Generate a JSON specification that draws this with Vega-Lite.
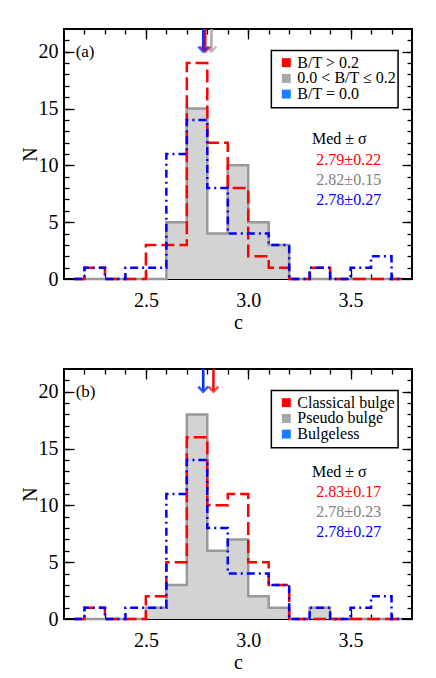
{
 "$schema": "https://vega.github.io/schema/vega-lite/v6.json",
 "background": "white",
 "padding": {"left": 19, "top": 26, "right": 5, "bottom": 5},
 "spacing": 90,
 "bounds": "flush",
 "config": {
  "view": {"stroke": "black", "strokeWidth": 2},
  "font": "Liberation Serif",
  "text": {"font": "Liberation Serif"},
  "axis": {"labelFont": "Liberation Serif", "titleFont": "Liberation Serif", "labelColor": "black", "titleColor": "black", "domain": false, "grid": false, "tickColor": "black", "tickWidth": 1.3, "zindex": 1, "titleFontWeight": "normal"}
 },
 "datasets": {
  "ga": [{"c":2.15,"n":0},{"c":2.25,"n":0},{"c":2.35,"n":0},{"c":2.45,"n":0},{"c":2.55,"n":0},{"c":2.65,"n":5},{"c":2.75,"n":15},{"c":2.85,"n":4},{"c":2.95,"n":10},{"c":3.05,"n":5},{"c":3.15,"n":3},{"c":3.25,"n":0},{"c":3.35,"n":0},{"c":3.45,"n":0},{"c":3.55,"n":0},{"c":3.65,"n":0},{"c":3.75,"n":0}],
  "ra": [{"c":2.15,"n":0},{"c":2.25,"n":1},{"c":2.35,"n":0},{"c":2.45,"n":0},{"c":2.55,"n":3},{"c":2.65,"n":3},{"c":2.75,"n":19},{"c":2.85,"n":12},{"c":2.95,"n":8},{"c":3.05,"n":2},{"c":3.15,"n":1},{"c":3.25,"n":0},{"c":3.35,"n":1},{"c":3.45,"n":0},{"c":3.55,"n":0},{"c":3.65,"n":0},{"c":3.75,"n":0}],
  "bl": [{"c":2.15,"n":0},{"c":2.25,"n":1},{"c":2.35,"n":0},{"c":2.45,"n":1},{"c":2.55,"n":1},{"c":2.65,"n":11},{"c":2.75,"n":14},{"c":2.85,"n":8},{"c":2.95,"n":4},{"c":3.05,"n":4},{"c":3.15,"n":3},{"c":3.25,"n":0},{"c":3.35,"n":1},{"c":3.45,"n":0},{"c":3.55,"n":1},{"c":3.65,"n":2},{"c":3.75,"n":0}],
  "gb": [{"c":2.15,"n":0},{"c":2.25,"n":0},{"c":2.35,"n":0},{"c":2.45,"n":0},{"c":2.55,"n":1},{"c":2.65,"n":3},{"c":2.75,"n":18},{"c":2.85,"n":6},{"c":2.95,"n":7},{"c":3.05,"n":2},{"c":3.15,"n":1},{"c":3.25,"n":0},{"c":3.35,"n":1},{"c":3.45,"n":0},{"c":3.55,"n":0},{"c":3.65,"n":0},{"c":3.75,"n":0}],
  "rb": [{"c":2.15,"n":0},{"c":2.25,"n":1},{"c":2.35,"n":0},{"c":2.45,"n":0},{"c":2.55,"n":2},{"c":2.65,"n":5},{"c":2.75,"n":16},{"c":2.85,"n":10},{"c":2.95,"n":11},{"c":3.05,"n":5},{"c":3.15,"n":3},{"c":3.25,"n":0},{"c":3.35,"n":0},{"c":3.45,"n":0},{"c":3.55,"n":0},{"c":3.65,"n":0},{"c":3.75,"n":0}],
  "meda": [{"s":"gray","med":2.82},{"s":"red","med":2.79},{"s":"blue","med":2.78}],
  "medb": [{"s":"gray","med":2.78},{"s":"red","med":2.83},{"s":"blue","med":2.78}]
 },
 "vconcat": [
  {
   "width": 348, "height": 250,
   "resolve": {"axis": {"x": "independent", "y": "independent"}},
   "layer": [
    {"data": {"name": "ga"}, "mark": {"type": "area", "interpolate": "step", "color": "#d3d3d3"},
     "encoding": {
      "x": {"field": "c", "type": "quantitative", "scale": {"domain": [2.1, 3.8], "nice": false, "zero": false}, "axis": {"orient": "bottom", "values": [2.5, 3.0, 3.5], "format": ".1f", "tickSize": -10, "labelPadding": 21, "labelFontSize": 20, "labelFont": "Liberation Serif", "labelFlush": false, "title": "c", "titleFont": "Liberation Serif", "titleFontSize": 20, "titlePadding": 2}},
      "y": {"field": "n", "type": "quantitative", "scale": {"domain": [0, 22], "nice": false}, "axis": {"orient": "left", "values": [0, 5, 10, 15, 20], "tickSize": -10, "labelPadding": 16, "labelFontSize": 20, "labelFont": "Liberation Serif", "labelFlush": false, "title": "N", "titleFont": "Liberation Serif", "titleFontSize": 20, "titlePadding": -2}}}},
    {"data": {"name": "ga"}, "mark": {"type": "line", "interpolate": "step", "color": "#999999", "strokeWidth": 2.5},
     "encoding": {
      "x": {"field": "c", "type": "quantitative", "axis": {"orient": "bottom", "values": [2.2,2.3,2.4,2.5,2.6,2.7,2.8,2.9,3.0,3.1,3.2,3.3,3.4,3.5,3.6,3.7], "tickSize": -5, "labels": false, "title": null}},
      "y": {"field": "n", "type": "quantitative", "axis": {"orient": "left", "values": [1,2,3,4,5,6,7,8,9,10,11,12,13,14,15,16,17,18,19,20,21], "tickSize": -5, "labels": false, "title": null}}}},
    {"data": {"name": "ra"}, "mark": {"type": "line", "interpolate": "step", "color": "#ff0000", "strokeWidth": 2.5, "strokeDash": [13, 5]},
     "encoding": {
      "x": {"field": "c", "type": "quantitative", "axis": {"orient": "top", "values": [2.5, 3.0, 3.5], "tickSize": -10, "labels": false, "title": null}},
      "y": {"field": "n", "type": "quantitative", "axis": {"orient": "right", "values": [0, 5, 10, 15, 20], "tickSize": -10, "labels": false, "title": null}}}},
    {"data": {"name": "bl"}, "mark": {"type": "line", "interpolate": "step", "color": "#0000ff", "strokeWidth": 2.5, "strokeDash": [8, 4, 2, 4]},
     "encoding": {
      "x": {"field": "c", "type": "quantitative", "axis": {"orient": "top", "values": [2.2,2.3,2.4,2.5,2.6,2.7,2.8,2.9,3.0,3.1,3.2,3.3,3.4,3.5,3.6,3.7], "tickSize": -5, "labels": false, "title": null}},
      "y": {"field": "n", "type": "quantitative", "axis": {"orient": "right", "values": [1,2,3,4,5,6,7,8,9,10,11,12,13,14,15,16,17,18,19,20,21], "tickSize": -5, "labels": false, "title": null}}}},
    {"data": {"name": "meda"}, "mark": {"type": "rule", "strokeWidth": 2.5},
     "encoding": {
      "x": {"field": "med", "type": "quantitative", "axis": null},
      "y": {"datum": 22, "type": "quantitative", "axis": null},
      "y2": {"datum": 20.1},
      "color": {"field": "s", "type": "nominal", "scale": {"domain": ["gray", "red", "blue"], "range": ["#aaaaaa", "#ff0000", "#0033ff"]}, "legend": null}}},
    {"data": {"name": "meda"}, "mark": {"type": "point", "shape": "M-1,-1L0,0L1,-1", "filled": false, "size": 100, "strokeWidth": 2.5},
     "encoding": {
      "x": {"field": "med", "type": "quantitative", "axis": null},
      "y": {"datum": 20.0, "type": "quantitative", "axis": null},
      "color": {"field": "s", "type": "nominal", "scale": {"domain": ["gray", "red", "blue"], "range": ["#aaaaaa", "#ff0000", "#0033ff"]}, "legend": null}}},
    {"data": {"values": [{}]}, "mark": {"type": "text", "text": "(a)", "align": "left", "baseline": "middle", "fontSize": 17},
     "encoding": {"x": {"datum": 2.157, "type": "quantitative", "axis": null}, "y": {"datum": 20.0, "type": "quantitative", "axis": null}}},
    {"data": {"values": [{}]}, "mark": {"type": "rect", "fill": "white", "stroke": "black", "strokeWidth": 1.5},
     "encoding": {"x": {"datum": 3.113, "type": "quantitative", "axis": null}, "x2": {"datum": 3.732}, "y": {"datum": 20.1, "type": "quantitative", "axis": null}, "y2": {"datum": 15.07}}},
    {"data": {"values": [{}]}, "mark": {"type": "point", "shape": "square", "filled": true, "size": 80, "color": "#ff0000", "opacity": 1},
     "encoding": {"x": {"datum": 3.186, "type": "quantitative", "axis": null}, "y": {"datum": 19.04, "type": "quantitative", "axis": null}}},
    {"data": {"values": [{}]}, "mark": {"type": "point", "shape": "square", "filled": true, "size": 80, "color": "#a6a6a6", "opacity": 1},
     "encoding": {"x": {"datum": 3.186, "type": "quantitative", "axis": null}, "y": {"datum": 17.65, "type": "quantitative", "axis": null}}},
    {"data": {"values": [{}]}, "mark": {"type": "point", "shape": "square", "filled": true, "size": 80, "color": "#1a80ff", "opacity": 1},
     "encoding": {"x": {"datum": 3.186, "type": "quantitative", "axis": null}, "y": {"datum": 16.27, "type": "quantitative", "axis": null}}},
    {"data": {"values": [{}]}, "mark": {"type": "text", "text": ["B/T > 0.2", "0.0 < B/T ≤ 0.2", "B/T = 0.0"], "lineHeight": 15.7, "align": "left", "baseline": "middle", "fontSize": 16, "color": "black"},
     "encoding": {"x": {"datum": 3.24, "type": "quantitative", "axis": null}, "y": {"datum": 19.04, "type": "quantitative", "axis": null}}},
    {"data": {"values": [{}]}, "mark": {"type": "text", "text": "Med ± σ", "align": "center", "baseline": "middle", "fontSize": 16, "color": "black"},
     "encoding": {"x": {"datum": 3.445, "type": "quantitative", "axis": null}, "y": {"datum": 12.36, "type": "quantitative", "axis": null}}},
    {"data": {"values": [{}]}, "mark": {"type": "text", "text": "2.79±0.22", "align": "center", "baseline": "middle", "fontSize": 16, "color": "#ff0000"},
     "encoding": {"x": {"datum": 3.491, "type": "quantitative", "axis": null}, "y": {"datum": 10.5, "type": "quantitative", "axis": null}}},
    {"data": {"values": [{}]}, "mark": {"type": "text", "text": "2.82±0.15", "align": "center", "baseline": "middle", "fontSize": 16, "color": "#808080"},
     "encoding": {"x": {"datum": 3.491, "type": "quantitative", "axis": null}, "y": {"datum": 8.68, "type": "quantitative", "axis": null}}},
    {"data": {"values": [{}]}, "mark": {"type": "text", "text": "2.78±0.27", "align": "center", "baseline": "middle", "fontSize": 16, "color": "#0000ff"},
     "encoding": {"x": {"datum": 3.491, "type": "quantitative", "axis": null}, "y": {"datum": 6.92, "type": "quantitative", "axis": null}}}
   ]
  },
  {
   "width": 348, "height": 250,
   "resolve": {"axis": {"x": "independent", "y": "independent"}},
   "layer": [
    {"data": {"name": "gb"}, "mark": {"type": "area", "interpolate": "step", "color": "#d3d3d3"},
     "encoding": {
      "x": {"field": "c", "type": "quantitative", "scale": {"domain": [2.1, 3.8], "nice": false, "zero": false}, "axis": {"orient": "bottom", "values": [2.5, 3.0, 3.5], "format": ".1f", "tickSize": -10, "labelPadding": 21, "labelFontSize": 20, "labelFont": "Liberation Serif", "labelFlush": false, "title": "c", "titleFont": "Liberation Serif", "titleFontSize": 20, "titlePadding": 2}},
      "y": {"field": "n", "type": "quantitative", "scale": {"domain": [0, 22], "nice": false}, "axis": {"orient": "left", "values": [0, 5, 10, 15, 20], "tickSize": -10, "labelPadding": 16, "labelFontSize": 20, "labelFont": "Liberation Serif", "labelFlush": false, "title": "N", "titleFont": "Liberation Serif", "titleFontSize": 20, "titlePadding": -2}}}},
    {"data": {"name": "gb"}, "mark": {"type": "line", "interpolate": "step", "color": "#999999", "strokeWidth": 2.5},
     "encoding": {
      "x": {"field": "c", "type": "quantitative", "axis": {"orient": "bottom", "values": [2.2,2.3,2.4,2.5,2.6,2.7,2.8,2.9,3.0,3.1,3.2,3.3,3.4,3.5,3.6,3.7], "tickSize": -5, "labels": false, "title": null}},
      "y": {"field": "n", "type": "quantitative", "axis": {"orient": "left", "values": [1,2,3,4,5,6,7,8,9,10,11,12,13,14,15,16,17,18,19,20,21], "tickSize": -5, "labels": false, "title": null}}}},
    {"data": {"name": "rb"}, "mark": {"type": "line", "interpolate": "step", "color": "#ff0000", "strokeWidth": 2.5, "strokeDash": [13, 5]},
     "encoding": {
      "x": {"field": "c", "type": "quantitative", "axis": {"orient": "top", "values": [2.5, 3.0, 3.5], "tickSize": -10, "labels": false, "title": null}},
      "y": {"field": "n", "type": "quantitative", "axis": {"orient": "right", "values": [0, 5, 10, 15, 20], "tickSize": -10, "labels": false, "title": null}}}},
    {"data": {"name": "bl"}, "mark": {"type": "line", "interpolate": "step", "color": "#0000ff", "strokeWidth": 2.5, "strokeDash": [8, 4, 2, 4]},
     "encoding": {
      "x": {"field": "c", "type": "quantitative", "axis": {"orient": "top", "values": [2.2,2.3,2.4,2.5,2.6,2.7,2.8,2.9,3.0,3.1,3.2,3.3,3.4,3.5,3.6,3.7], "tickSize": -5, "labels": false, "title": null}},
      "y": {"field": "n", "type": "quantitative", "axis": {"orient": "right", "values": [1,2,3,4,5,6,7,8,9,10,11,12,13,14,15,16,17,18,19,20,21], "tickSize": -5, "labels": false, "title": null}}}},
    {"data": {"name": "medb"}, "mark": {"type": "rule", "strokeWidth": 2.5},
     "encoding": {
      "x": {"field": "med", "type": "quantitative", "axis": null},
      "y": {"datum": 22, "type": "quantitative", "axis": null},
      "y2": {"datum": 20.1},
      "color": {"field": "s", "type": "nominal", "scale": {"domain": ["gray", "red", "blue"], "range": ["#aaaaaa", "#ff0000", "#0033ff"]}, "legend": null}}},
    {"data": {"name": "medb"}, "mark": {"type": "point", "shape": "M-1,-1L0,0L1,-1", "filled": false, "size": 100, "strokeWidth": 2.5},
     "encoding": {
      "x": {"field": "med", "type": "quantitative", "axis": null},
      "y": {"datum": 20.0, "type": "quantitative", "axis": null},
      "color": {"field": "s", "type": "nominal", "scale": {"domain": ["gray", "red", "blue"], "range": ["#aaaaaa", "#ff0000", "#0033ff"]}, "legend": null}}},
    {"data": {"values": [{}]}, "mark": {"type": "text", "text": "(b)", "align": "left", "baseline": "middle", "fontSize": 17},
     "encoding": {"x": {"datum": 2.157, "type": "quantitative", "axis": null}, "y": {"datum": 20.0, "type": "quantitative", "axis": null}}},
    {"data": {"values": [{}]}, "mark": {"type": "rect", "fill": "white", "stroke": "black", "strokeWidth": 1.5},
     "encoding": {"x": {"datum": 3.113, "type": "quantitative", "axis": null}, "x2": {"datum": 3.732}, "y": {"datum": 20.1, "type": "quantitative", "axis": null}, "y2": {"datum": 15.07}}},
    {"data": {"values": [{}]}, "mark": {"type": "point", "shape": "square", "filled": true, "size": 80, "color": "#ff0000", "opacity": 1},
     "encoding": {"x": {"datum": 3.186, "type": "quantitative", "axis": null}, "y": {"datum": 19.04, "type": "quantitative", "axis": null}}},
    {"data": {"values": [{}]}, "mark": {"type": "point", "shape": "square", "filled": true, "size": 80, "color": "#a6a6a6", "opacity": 1},
     "encoding": {"x": {"datum": 3.186, "type": "quantitative", "axis": null}, "y": {"datum": 17.65, "type": "quantitative", "axis": null}}},
    {"data": {"values": [{}]}, "mark": {"type": "point", "shape": "square", "filled": true, "size": 80, "color": "#1a80ff", "opacity": 1},
     "encoding": {"x": {"datum": 3.186, "type": "quantitative", "axis": null}, "y": {"datum": 16.27, "type": "quantitative", "axis": null}}},
    {"data": {"values": [{}]}, "mark": {"type": "text", "text": ["Classical bulge", "Pseudo bulge", "Bulgeless"], "lineHeight": 15.7, "align": "left", "baseline": "middle", "fontSize": 16, "color": "black"},
     "encoding": {"x": {"datum": 3.24, "type": "quantitative", "axis": null}, "y": {"datum": 19.04, "type": "quantitative", "axis": null}}},
    {"data": {"values": [{}]}, "mark": {"type": "text", "text": "Med ± σ", "align": "center", "baseline": "middle", "fontSize": 16, "color": "black"},
     "encoding": {"x": {"datum": 3.445, "type": "quantitative", "axis": null}, "y": {"datum": 12.95, "type": "quantitative", "axis": null}}},
    {"data": {"values": [{}]}, "mark": {"type": "text", "text": "2.83±0.17", "align": "center", "baseline": "middle", "fontSize": 16, "color": "#ff0000"},
     "encoding": {"x": {"datum": 3.491, "type": "quantitative", "axis": null}, "y": {"datum": 11.18, "type": "quantitative", "axis": null}}},
    {"data": {"values": [{}]}, "mark": {"type": "text", "text": "2.78±0.23", "align": "center", "baseline": "middle", "fontSize": 16, "color": "#808080"},
     "encoding": {"x": {"datum": 3.491, "type": "quantitative", "axis": null}, "y": {"datum": 9.42, "type": "quantitative", "axis": null}}},
    {"data": {"values": [{}]}, "mark": {"type": "text", "text": "2.78±0.27", "align": "center", "baseline": "middle", "fontSize": 16, "color": "#0000ff"},
     "encoding": {"x": {"datum": 3.491, "type": "quantitative", "axis": null}, "y": {"datum": 7.65, "type": "quantitative", "axis": null}}}
   ]
  }
 ]
}
